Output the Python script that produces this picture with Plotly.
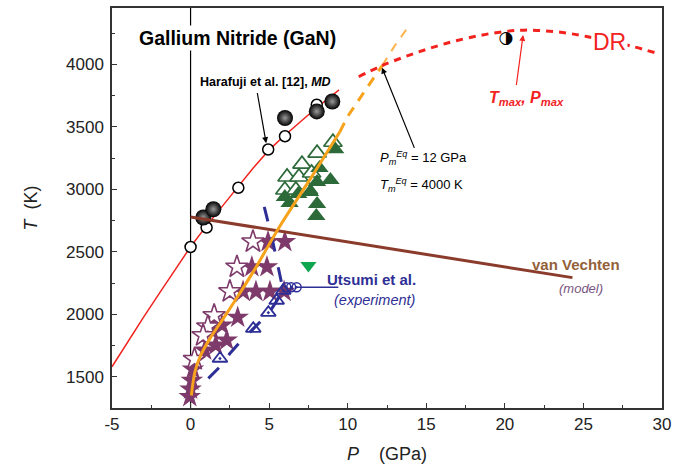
import plotly.graph_objects as go

# ---------------- data (P in GPa, T in K) ----------------
x_tick_vals = [-5, 0, 5, 10, 15, 20, 25, 30]
x_tick_text = ["-5", "0", "5", "10", "15", "20", "25", "30"]

# Harafuji et al. MD fit (red solid)
md_fit_P = [-5, -4, -3, -2, -1, 0, 1, 2, 3, 4, 5, 6, 7, 8, 9.45]
md_fit_T = [1580, 1780, 1975, 2165, 2355, 2540, 2705, 2865, 3017, 3172, 3315, 3432, 3543, 3650, 3795]
md_open_P = [0.0, 1.02, 3.04, 4.94, 6.01, 8.03]
md_open_T = [2538, 2694, 3012, 3318, 3424, 3676]
md_filled_P = [0.81, 1.45, 6.01, 8.03, 9.02]
md_filled_T = [2774, 2840, 3570, 3623, 3702]

# DR curve (red dashed)
dr_P = [10.7, 12.2, 14.2, 16.3, 18.4, 20.0, 21.2, 22.5, 23.9, 25.2, 26.7, 28.2, 29.7]
dr_T = [3900, 3990, 4085, 4168, 4230, 4262, 4273, 4268, 4250, 4222, 4185, 4140, 4087]
dr_point_P = [20.06]
dr_point_T = [4202]

# Orange melting curve
orange_P = [0.05, 0.28, 0.6, 1.23, 2.08, 3.04, 4.1, 4.95, 5.7, 7.6, 9.5]
orange_T = [1350, 1540, 1660, 1805, 1965, 2150, 2363, 2548, 2708, 3079, 3460]
orange_ext_P = [9.5, 10.0, 11.0, 12.2]
orange_ext_T = [3460, 3583, 3770, 3990]
orange_ext2_P = [12.2, 13.0, 14.0]
orange_ext2_T = [3990, 4150, 4325]

# van Vechten model (brown)
vv_P = [0.0, 24.3]
vv_T = [2778, 2293]

# Green triangles
green_open_P = [9.06, 8.05, 7.09, 6.14, 6.9, 7.7, 6.0, 6.7, 7.5]
green_open_T = [3376, 3289, 3201, 3098, 3098, 3130, 2994, 2994, 2994]
green_filled_P = [9.2, 8.2, 8.9, 8.05, 7.6, 6.85, 6.0, 6.3, 8.05, 8.0]
green_filled_T = [3320, 3170, 3074, 3058, 2978, 2962, 2938, 2890, 2882, 2787]
green_down_P = [7.5]
green_down_T = [2390]

# Purple stars
star_open_P = [3.97, 2.95, 2.5, 1.5, 1.1, 0.8, 0.25]
star_open_T = [2580, 2379, 2182, 1990, 1900, 1830, 1640]
star_filled_P = [4.93, 6.0, 3.9, 4.86, 3.34, 4.16, 5.05, 5.95, 3.0, 2.0, 1.36, 2.3, 1.6,
                 0.9, 0.3, 0.15, 0.08, 0.0, -0.05]
star_filled_T = [2580, 2580, 2379, 2379, 2182, 2182, 2182, 2182, 1975, 1912, 1872, 1792, 1752,
                 1712, 1633, 1560, 1470, 1400, 1340]

# Utsumi et al. (blue)
utsumi_line_P = [1.13, 1.87, 2.5, 3.25, 4.0, 5.0, 5.5, 5.85, 5.2, 4.6]
utsumi_line_T = [1487, 1580, 1686, 1792, 1885, 2013, 2110, 2215, 2600, 2905]
utsumi_tri_P = [1.87, 3.99, 4.95, 5.48, 5.9]
utsumi_tri_T = [1646, 1885, 2013, 2110, 2190]
utsumi_circ_P = [6.1, 6.4, 6.75]
utsumi_circ_T = [2216, 2216, 2216]

# ---------------- styling ----------------
RED = "#F2231F"
ORANGE = "#F7A21B"
BROWN = "#8A3B2B"
GREEN = "#2D6A3A"
GREEN2 = "#0FA650"
PURPLE = "#7D3A6A"
BLUE = "#2E2F96"
FONT = "Arial, Liberation Sans, sans-serif"

fig = go.Figure()

fig.add_trace(go.Scatter(x=md_fit_P, y=md_fit_T, mode="lines",
                         line=dict(color=RED, width=1.5), hoverinfo="skip"))
fig.add_trace(go.Scatter(x=md_open_P, y=md_open_T, mode="markers",
                         marker=dict(symbol="circle", size=11, color="white",
                                     line=dict(color="black", width=1.5))))
fig.add_trace(go.Scatter(x=md_filled_P, y=md_filled_T, mode="markers",
                         marker=dict(symbol="circle", size=16, color="black",
                                     gradient=dict(type="radial", color="#9a9a9a"),
                                     line=dict(width=0))))

fig.add_trace(go.Scatter(x=green_open_P, y=green_open_T, mode="markers",
                         marker=dict(symbol="triangle-up", size=16, color="white",
                                     line=dict(color=GREEN, width=1.7))))
fig.add_trace(go.Scatter(x=green_filled_P, y=green_filled_T, mode="markers",
                         marker=dict(symbol="triangle-up", size=16, color=GREEN,
                                     line=dict(width=0))))
fig.add_trace(go.Scatter(x=green_down_P, y=green_down_T, mode="markers",
                         marker=dict(symbol="triangle-down", size=14, color=GREEN2,
                                     line=dict(width=0))))

fig.add_trace(go.Scatter(x=star_filled_P, y=star_filled_T, mode="markers",
                         marker=dict(symbol="star", size=17, color=PURPLE,
                                     line=dict(width=0))))
fig.add_trace(go.Scatter(x=star_open_P, y=star_open_T, mode="markers",
                         marker=dict(symbol="star", size=17, color="white",
                                     line=dict(color=PURPLE, width=1.6))))

fig.add_trace(go.Scatter(x=utsumi_line_P, y=utsumi_line_T, mode="lines",
                         line=dict(color=BLUE, width=3, dash="15px,16px")))
fig.add_trace(go.Scatter(x=utsumi_tri_P, y=utsumi_tri_T, mode="markers",
                         marker=dict(symbol="triangle-up-open-dot", size=13, color=BLUE,
                                     line=dict(color=BLUE, width=1.8))))
fig.add_trace(go.Scatter(x=utsumi_circ_P, y=utsumi_circ_T, mode="markers",
                         marker=dict(symbol="circle-open-dot", size=9, color=BLUE,
                                     line=dict(color=BLUE, width=1.5))))

fig.add_trace(go.Scatter(x=vv_P, y=vv_T, mode="lines",
                         line=dict(color=BROWN, width=3)))

fig.add_trace(go.Scatter(x=orange_P, y=orange_T, mode="lines",
                         line=dict(color=ORANGE, width=3, shape="spline")))
fig.add_trace(go.Scatter(x=orange_ext_P, y=orange_ext_T, mode="lines",
                         line=dict(color=ORANGE, width=3, dash="10px,8px")))
fig.add_trace(go.Scatter(x=orange_ext2_P, y=orange_ext2_T, mode="lines",
                         line=dict(color="#FBB34A", width=2, dash="9px,8px")))

fig.add_trace(go.Scatter(x=dr_P, y=dr_T, mode="lines",
                         line=dict(color=RED, width=3, dash="7px,6px", shape="spline")))
fig.add_trace(go.Scatter(x=dr_point_P, y=dr_point_T, mode="text", text=["◑"],
                         textposition="middle center",
                         textfont=dict(size=17, color="black", family="DejaVu Sans")))

fig.add_vline(x=0, line=dict(color="black", width=1.2), layer="below")

ann = []
ann.append(dict(x=-3.41, y=4212, xref="x", yref="y", xanchor="left", yanchor="middle",
                text="<b>Gallium Nitride (GaN)</b>", showarrow=False, bgcolor="white",
                font=dict(size=19.5, color="black", family=FONT)))
ann.append(dict(x=4.74, y=3862, xref="x", yref="y", xanchor="center", yanchor="middle",
                text="<b>Harafuji et al. [12], <i>MD</i></b>", showarrow=False,
                font=dict(size=12.5, color="black", family=FONT)))
ann.append(dict(x=4.81, y=3368, ax=4.23, ay=3782, xref="x", yref="y", axref="x", ayref="y",
                text="", showarrow=True, arrowhead=2, arrowsize=1, arrowwidth=1.2,
                arrowcolor="black"))
ann.append(dict(x=11.95, y=3249, xref="x", yref="y", xanchor="left", yanchor="middle",
                text="<i>P</i><sub><i>m</i></sub><sup><i>Eq</i></sup> = 12 GPa", showarrow=False,
                font=dict(size=13, color="black", family=FONT)))
ann.append(dict(x=11.95, y=3034, xref="x", yref="y", xanchor="left", yanchor="middle",
                text="<i>T</i><sub><i>m</i></sub><sup><i>Eq</i></sup> = 4000 K", showarrow=False,
                font=dict(size=13, color="black", family=FONT)))
ann.append(dict(x=12.18, y=3973, ax=14.28, ay=3319, xref="x", yref="y", axref="x", ayref="y",
                text="", showarrow=True, arrowhead=2, arrowsize=1, arrowwidth=1.2,
                arrowcolor="black"))
ann.append(dict(x=26.63, y=4180, xref="x", yref="y", xanchor="center", yanchor="middle",
                text="DR", showarrow=False, bgcolor="white",
                font=dict(size=23, color=RED, family=FONT)))
ann.append(dict(x=21.35, y=3726, xref="x", yref="y", xanchor="center", yanchor="middle",
                text="<b><i>T</i></b><sub><b><i>max</i></b></sub><b><i>, P</i></b><sub><b><i>max</i></b></sub>",
                showarrow=False, font=dict(size=16, color=RED, family=FONT)))
ann.append(dict(x=21.16, y=4235, ax=20.72, ay=3822, xref="x", yref="y", axref="x", ayref="y",
                text="", showarrow=True, arrowhead=2, arrowsize=1, arrowwidth=1.2,
                arrowcolor=RED))
ann.append(dict(x=6.75, y=2216, ax=9.5, ay=2216, xref="x", yref="y", axref="x", ayref="y",
                text="", showarrow=True, arrowhead=0, arrowwidth=1.3, arrowcolor=BLUE))
ann.append(dict(x=8.55, y=2277, xref="x", yref="y", xanchor="left", yanchor="middle",
                text="<b>Utsumi et al.</b>", showarrow=False,
                font=dict(size=15, color=BLUE, family=FONT)))
ann.append(dict(x=9.0, y=2118, xref="x", yref="y", xanchor="left", yanchor="middle",
                text="<i>(experiment)</i>", showarrow=False,
                font=dict(size=14.5, color=BLUE, family=FONT)))
ann.append(dict(x=21.6, y=2397, xref="x", yref="y", xanchor="left", yanchor="middle",
                text="<b>van Vechten</b>", showarrow=False,
                font=dict(size=15, color="#93613A", family=FONT)))
ann.append(dict(x=24.85, y=2206, xref="x", yref="y", xanchor="center", yanchor="middle",
                text="<i>(model)</i>", showarrow=False,
                font=dict(size=13, color="#7A5580", family=FONT)))

fig.update_layout(
    width=688, height=474,
    margin=dict(l=112, r=26, t=6, b=66),
    paper_bgcolor="white", plot_bgcolor="white",
    showlegend=False,
    annotations=ann,
    font=dict(family=FONT, color="#222"),
    xaxis=dict(range=[-5, 30], tickmode="array", tickvals=x_tick_vals, ticktext=x_tick_text,
               ticks="inside", ticklen=5, tickwidth=1, tickcolor="#333",
               minor=dict(ticks="inside", dtick=2.5, tick0=-5, ticklen=3, tickcolor="#333"),
               showline=True, linecolor="#333", linewidth=1.5, mirror=True,
               showgrid=False, zeroline=False,
               tickfont=dict(size=17, family=FONT, color="#222"),
               title=dict(text="<i>P</i>\u00a0\u00a0\u00a0\u00a0(GPa)", standoff=14,
                          font=dict(size=18, family=FONT, color="#222"))),
    yaxis=dict(range=[1250, 4450], tick0=0, dtick=500, ticks="inside", ticklen=5,
               tickwidth=1, tickcolor="#333", ticklabelstandoff=3,
               minor=dict(ticks="inside", dtick=250, ticklen=3, tickcolor="#333"),
               showline=True, linecolor="#333", linewidth=1.5, mirror=True,
               showgrid=False, zeroline=False,
               tickfont=dict(size=17, family=FONT, color="#222"),
               title=dict(text="<i>T</i>\u00a0\u00a0(K)", standoff=24,
                          font=dict(size=18, family=FONT, color="#222"))),
)

fig.write_html("out.html", config={"displayModeBar": False},
               post_script="document.body.style.margin='0px';")
